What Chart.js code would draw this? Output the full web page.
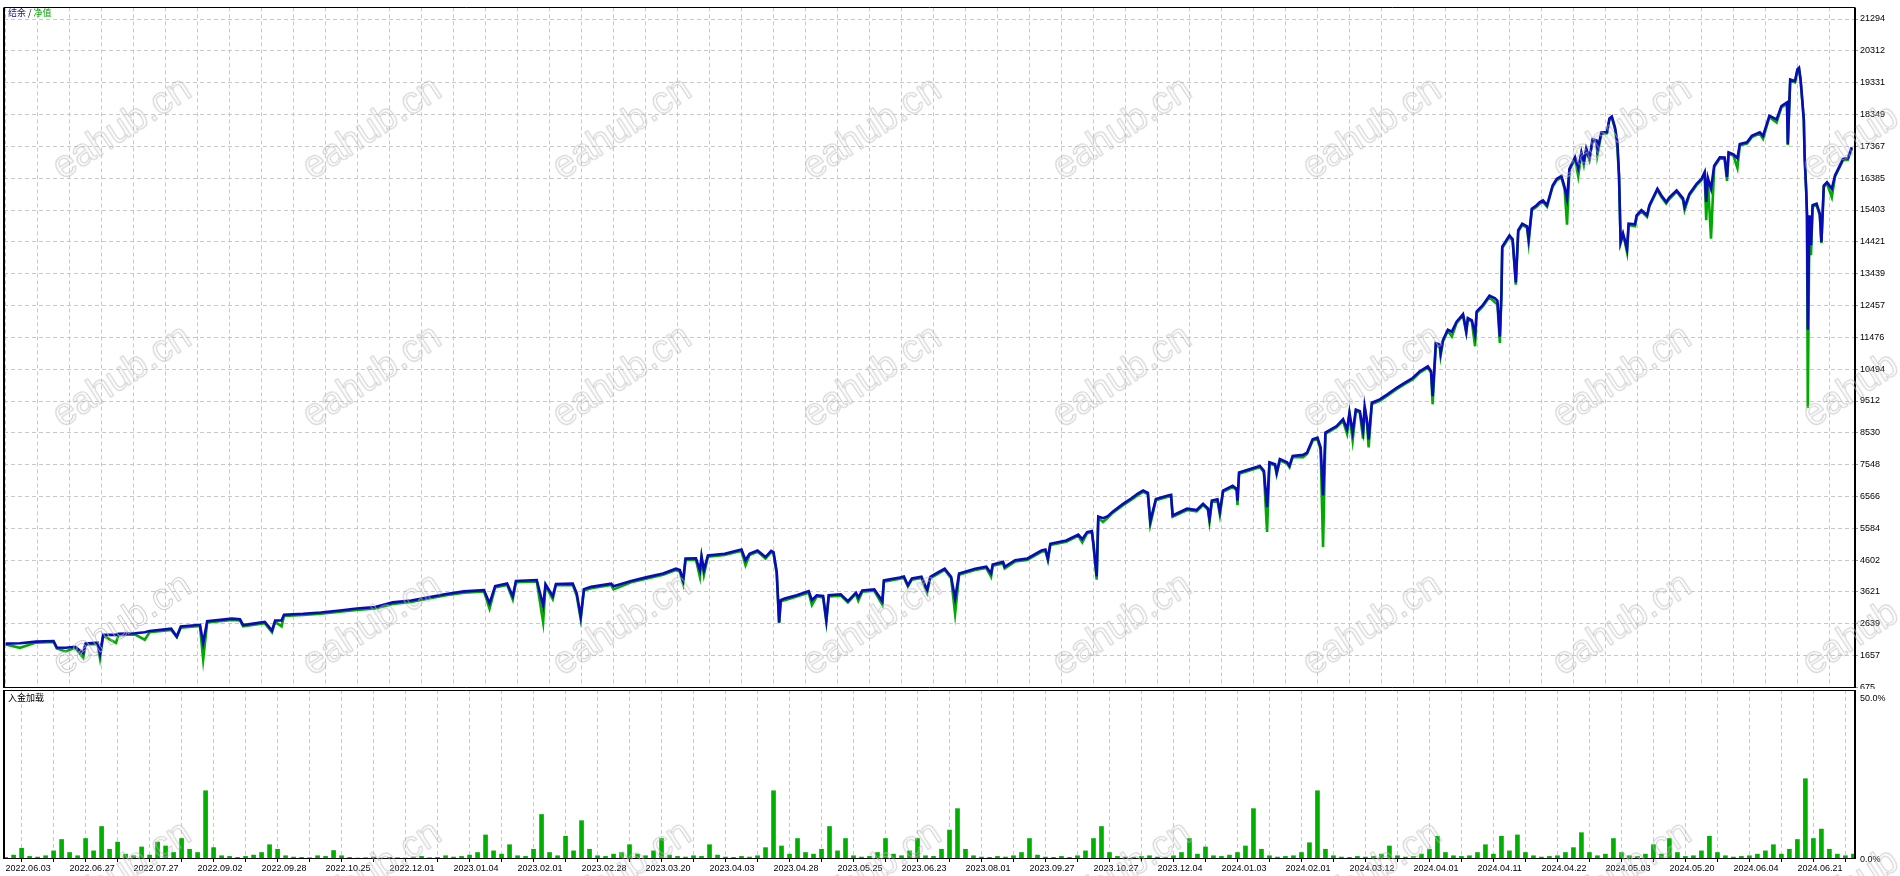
<!DOCTYPE html>
<html>
<head>
<meta charset="utf-8">
<script src="https://cdn.jsdelivr.net/npm/chart.js@4.4.1/dist/chart.umd.min.js"></script>
<style>
html,body{margin:0;padding:0;background:#fff;width:1900px;height:876px;overflow:hidden;}
#wrapMain{position:absolute;left:0;top:0;width:1900px;height:700px;}
#wrapLoad{position:absolute;left:0;top:689px;width:1900px;height:187px;background:#fff;}
.lbl{position:absolute;font-family:"Noto Sans CJK SC";font-size:9px;line-height:10px;white-space:pre;color:#000;z-index:5;}
.ax{position:absolute;font-family:"Liberation Sans";font-size:9px;line-height:10px;white-space:pre;color:#000;z-index:5;}
.wm{position:absolute;font-family:"Liberation Sans";font-size:38px;line-height:40px;color:transparent;-webkit-text-stroke:1px rgba(185,185,185,0.7);transform:translate(-50%,-50%) rotate(-33deg);white-space:nowrap;pointer-events:none;z-index:10;}
</style>
</head>
<body>
<div id="wrapMain"><canvas id="main" width="1900" height="700"></canvas></div>
<div id="wrapLoad"><canvas id="load" width="1900" height="187"></canvas></div>
<div class="lbl" style="left:8px;top:8px;"><span style="color:#1414a0">结余</span> / <span style="color:#00a000">净值</span></div>
<div class="lbl" style="left:8px;top:693px;">入金加载</div>
<div id="loadTicks"></div>
<script>
// ---------- DATA ----------
const dateLabels = ["2022.06.03","2022.06.27","2022.07.27","2022.09.02","2022.09.28","2022.10.25","2022.12.01","2023.01.04","2023.02.01","2023.02.28","2023.03.20","2023.04.03","2023.04.28","2023.05.25","2023.06.23","2023.08.01","2023.09.27","2023.10.27","2023.12.04","2024.01.03","2024.02.01","2024.03.12","2024.04.01","2024.04.11","2024.04.22","2024.05.03","2024.05.20","2024.06.04","2024.06.21"];

const yTickValues = [675,1657,2639,3621,4602,5584,6566,7548,8530,9512,10494,11476,12457,13439,14421,15403,16385,17367,18349,19331,20312,21294];
const loadTickValues = [0, 50];

// deal number (x), balance (blue), equity (green)
const deals = [
0,18,38,60,64,75,87,97,100,115,
118,122,138,141,162,174,180,207,214,219,
243,247,252,283,293,297,324,333,337,345,
348,372,394,418,439,462,484,507,529,551,
573,598,605,612,627,634,638,664,672,675,
684,688,709,714,719,723,732,757,760,782,
802,822,838,843,847,850,863,868,870,873,
878,899,915,920,925,930,940,945,950,957,
960,964,967,969,974,989,1004,1008,1014,1022,
1026,1029,1044,1053,1063,1066,1071,1086,1096,1098,
1118,1123,1128,1133,1145,1152,1156,1164,1174,1182,
1187,1192,1212,1226,1232,1234,1247,1249,1262,1277,
1295,1300,1303,1306,1326,1341,1346,1352,1358,1360,
1364,1366,1372,1378,1384,1397,1408,1415,1422,1428,
1431,1438,1452,1457,1459,1477,1489,1497,1503,1505,
1508,1515,1518,1522,1534,1539,1540,1542,1555,1568,
1573,1577,1580,1587,1589,1593,1602,1605,1609,1622,
1627,1634,1640,1644,1647,1650,1664,1672,1677,1680,
1684,1688,1693,1697,1699,1702,1704,1708,1718,1727,
1739,1749,1759,1768,1778,1782,1784,1788,1793,1794,
1797,1803,1808,1814,1822,1826,1828,1833,1837,1839,
1847,1855,1862,1865,1868,1870,1871,1880,1884,1888,
1891,1896,1902,1904,1908,1914,1918,1922,1927,1934,
1939,1945,1949,1952,1955,1962,1966,1970,1973,1976,
1980,1984,1989,1990,1995,2002,2005,2008,2012,2015,
2017,2019,2022,2024,2027,2029,2037,2039,2045,2052,
2055,2065,2070,2076,2080,2089,2097,2099,2105,2114,
2120,2124,2126,2128,2132,2136,2143,2149,2152,2154,
2160,2165,2168,2177,2183,2193,2197,2205,2214,2220,
2227,2228,2231,2237,2240,2242,2244,2246,2248,2249,
2251,2252,2253,2255,2256,2257,2259,2264,2268,2270,
2273,2277,2283,2287,2293,2297,2303,2308];

const balance = [
2030,2040,2090,2110,1910,1900,1930,1730,2030,2060,
1720,2300,2300,2330,2350,2380,2420,2490,2250,2560,
2610,2050,2720,2800,2780,2600,2700,2430,2740,2740,
2920,2950,2990,3050,3110,3160,3300,3360,3460,3560,
3640,3680,3270,3800,3880,3490,3960,3990,3200,3860,
3490,3870,3880,3580,2860,3710,3780,3880,3800,3960,
4080,4190,4340,4300,3980,4650,4660,4290,4720,4300,
4750,4800,4900,4930,4600,4800,4900,4800,4700,4890,
4850,4240,2680,3370,3420,3520,3650,3370,3520,3500,
2760,3520,3550,3340,3600,3450,3670,3700,3340,3980,
4070,4100,3830,4040,4090,3680,4090,4200,4340,4090,
3420,4190,4340,4400,4190,4470,4550,4400,4600,4650,
4900,4930,4650,5110,5210,5390,5250,5470,5500,5100,
4100,5950,5900,5960,6100,6340,6520,6650,6750,6680,
5800,6490,6590,6620,5980,6190,6150,6340,6200,5880,
6440,6480,6100,6750,6900,6800,6440,7310,7410,7510,
7360,6240,7620,7560,7300,7720,7620,7510,7820,7850,
7920,8330,8380,8080,6600,8540,8740,8950,8640,9150,
8550,9250,9200,8600,9350,8900,8330,9460,9560,9710,
9920,10070,10220,10430,10580,10430,9660,11300,11250,11000,
11400,11710,11650,11960,12190,11660,12070,12000,11560,12270,
12480,12760,12680,12600,11500,12830,14270,14620,14500,13170,
14780,14980,14900,14520,15440,15550,15650,15700,15550,16160,
16360,16450,16100,15750,16670,17030,16700,17180,16900,17300,
17000,17590,17550,17250,17800,17810,18230,18290,17950,17490,
16470,14420,14680,14500,14200,14980,14960,15240,15400,15240,
15550,16060,15850,15650,15790,16010,15760,15500,15900,16210,
16360,16570,15650,16400,16060,16770,17030,17020,16420,17180,
17120,17000,17440,17490,17690,17800,17690,18310,18200,18610,
18720,17440,19430,19380,19740,19790,19430,18820,18200,17080,
16010,15240,11710,15240,14800,14320,15550,15600,15290,14420,
16160,16260,16060,16470,16770,16980,17000,17340];

const equity = [
2000,1900,2060,2080,1880,1790,1900,1590,2000,2020,
1580,2270,2050,2290,2310,2150,2380,2450,2230,2520,
2570,1540,2680,2760,2740,2560,2660,2380,2700,2560,
2880,2910,2950,3010,3070,3110,3250,3310,3420,3520,
3600,3640,3110,3760,3840,3390,3920,3950,2690,3820,
3400,3830,3840,3500,2780,3670,3740,3840,3700,3920,
4040,4150,4300,4240,3880,4610,4620,4090,4680,4150,
4710,4760,4860,4890,4450,4760,4860,4760,4650,4850,
4800,4200,2660,3330,3370,3480,3600,3220,3480,3450,
2700,3480,3510,3300,3560,3350,3630,3660,3230,3940,
4030,4060,3790,4000,4050,3600,4050,4160,4300,4050,
2950,4150,4300,4360,4090,4430,4500,4350,4560,4610,
4860,4890,4600,5070,5170,5350,5150,5430,5460,5050,
4000,5900,5780,5920,6060,6300,6480,6600,6710,6640,
5700,6450,6550,6580,5940,6150,6110,6300,6160,5780,
6400,6440,6000,6710,6860,6760,6300,7270,7370,7470,
7320,5470,7580,7520,7250,7680,7580,7470,7780,7780,
7880,8290,8340,8000,5010,8500,8700,8900,8500,9110,
8300,9210,9150,8350,9310,8800,8080,9420,9520,9670,
9880,10030,10180,10390,10540,10390,9410,11260,11150,10900,
11360,11670,11500,11920,12150,11620,12030,11960,11200,12230,
12440,12720,12550,12500,11300,12790,14230,14580,14460,13100,
14740,14940,14860,14400,15400,15500,15600,15650,15500,16120,
16320,16400,16050,14950,16630,16990,16450,17140,16800,17260,
16950,17550,17500,17100,17760,17770,18190,18250,17900,17300,
16430,14380,14640,14450,14100,14940,14900,15200,15360,15190,
15510,16020,15800,15600,15740,15970,15710,15400,15860,16170,
16320,16530,15090,16350,14520,16730,16990,16980,16300,17140,
17080,16700,17400,17450,17650,17760,17600,18270,18100,18570,
18680,17400,19390,19340,19700,19750,19380,18780,18150,17030,
15970,15200,9300,15200,14500,14010,15510,15550,15240,14380,
16120,16220,15800,16430,16730,16940,16950,17300];

// deposit load (%), one value per 10 deals
const loadValues = [
0.5,1.2,3.3,0.8,0.6,1.0,2.5,6.0,2.0,1.0,6.3,2.5,10.0,3.0,5.2,1.5,1.0,3.7,1.2,5.2,
4.0,2.0,6.3,3.0,2.0,21.0,3.5,1.0,0.8,0.5,0.8,1.2,2.0,4.4,3.0,1.0,0.6,0.5,0.4,1.0,
0.8,2.6,1.0,0.5,0.3,0.4,0.6,0.3,0.5,0.4,0.3,0.6,0.8,0.4,0.5,1.0,0.6,0.8,1.2,2.0,
7.4,2.5,1.5,4.4,1.0,0.8,3.0,13.7,2.0,1.0,7.0,2.5,11.8,3.0,1.0,0.8,1.5,2.0,4.4,1.5,
1.0,2.5,6.3,1.2,0.8,0.6,1.0,0.8,4.4,1.2,0.6,0.5,0.8,0.6,1.0,3.5,21.0,4.0,1.5,6.3,
2.0,1.5,3.0,10.0,2.5,6.3,1.0,0.6,0.8,2.0,6.3,1.5,1.0,2.5,6.3,1.0,0.8,3.0,8.9,15.5,
3.0,1.0,0.6,0.5,0.8,0.6,1.0,2.0,6.3,1.2,0.6,0.5,0.8,0.5,1.0,2.5,6.3,10.0,2.0,0.8,
0.6,0.5,0.8,1.0,0.6,0.5,1.0,2.0,6.3,1.5,3.7,1.0,0.8,1.2,2.0,4.0,15.5,3.0,1.0,0.6,
0.8,1.0,2.0,5.0,21.0,3.0,1.0,0.6,0.5,0.8,0.6,0.8,1.5,4.0,1.0,0.6,0.8,1.5,3.0,7.0,
2.0,1.0,0.8,1.0,2.0,4.4,1.5,7.0,2.5,7.4,2.0,1.0,0.6,0.8,1.0,2.0,3.5,8.1,2.0,1.0,
1.5,6.3,2.0,1.0,0.8,1.5,4.4,1.5,6.3,2.0,0.8,1.0,2.5,7.0,2.0,1.0,0.6,0.8,1.0,1.5,
2.5,4.4,1.5,3.0,6.0,24.7,6.3,9.2,3.0,1.5,1.0,1.5];
const LOAD_STEP = 10;

// ---------- STYLE / LAYOUT ----------
const BLUE = '#0a0ab9', GREEN = '#00aa00', BAR_GREEN = '#00b000', GRID = '#c8c8c8';
const X_MIN = -2, X_MAX = 2312, GRID_STEP = 40, LABEL_STEP = 80;
const gridDeals = [];
for (let v = 0; v <= X_MAX; v += GRID_STEP) gridDeals.push(v);
const tickFont = {family:'Liberation Sans', size:9};

const framePlugin = {
  id:'frame',
  afterDraw(chart){
    const {ctx, chartArea:a} = chart;
    ctx.save();
    ctx.strokeStyle = '#000';
    ctx.lineWidth = 1;
    ctx.beginPath();
    const t = Math.round(a.top) + 0.5, b = Math.round(a.bottom) - 0.5;
    ctx.moveTo(a.left, t); ctx.lineTo(a.right, t);
    ctx.moveTo(a.left, b); ctx.lineTo(a.right, b);
    ctx.stroke();
    ctx.lineWidth = 2;
    ctx.beginPath();
    ctx.moveTo(a.left, a.top); ctx.lineTo(a.left, a.bottom);
    ctx.moveTo(a.right, a.top); ctx.lineTo(a.right, a.bottom);
    ctx.stroke();
    ctx.restore();
  }
};

new Chart(document.getElementById('main'), {
  type:'line',
  data:{datasets:[
    {label:'结余', data: deals.map((d,i)=>({x:d, y:balance[i]})), borderColor:BLUE, borderWidth:2.6, pointRadius:0, tension:0, fill:false},
    {label:'净值', data: deals.map((d,i)=>({x:d, y:equity[i]})), borderColor:GREEN, borderWidth:2.6, pointRadius:0, tension:0, fill:false}
  ]},
  options:{
    responsive:false, animation:false, events:[],
    layout:{padding:{left:4, top:4, right:0, bottom:12}},
    plugins:{legend:{display:false}, tooltip:{enabled:false}},
    scales:{
      x:{type:'linear', min:X_MIN, max:X_MAX,
         afterBuildTicks:s=>{s.ticks = gridDeals.map(v=>({value:v}));},
         ticks:{display:false},
         grid:{color:GRID, drawTicks:false},
         border:{display:false, dash:[4,3]},
         afterFit:s=>{s.height = 0;}},
      y:{position:'right', min:660, max:21652,
         afterBuildTicks:s=>{s.ticks = yTickValues.map(v=>({value:v}));},
         ticks:{color:'#000', font:tickFont, padding:2, autoSkip:false, callback:v=>String(v)},
         grid:{color:GRID, tickColor:'#999', tickLength:3, tickBorderDash:[]},
         border:{display:false, dash:[4,3]},
         afterFit:s=>{s.width = 45;}}
    }
  },
  plugins:[framePlugin]
});

const loadChart = new Chart(document.getElementById('load'), {
  type:'bar',
  data:{datasets:[
    {label:'入金加载', data: loadValues.map((v,i)=>({x:i*LOAD_STEP, y:v})), backgroundColor:BAR_GREEN, borderWidth:0, barThickness:4}
  ]},
  options:{
    responsive:false, animation:false, events:[],
    layout:{padding:{left:4, top:1, right:0, bottom:0}},
    plugins:{legend:{display:false}, tooltip:{enabled:false}},
    scales:{
      x:{type:'linear', min:X_MIN, max:X_MAX, offset:false,
         afterBuildTicks:s=>{s.ticks = gridDeals.map(v=>({value:v}));},
         ticks:{autoSkip:false, maxRotation:0, minRotation:0, align:'start', color:'#000', font:tickFont, padding:1,
                callback:v=> (v % LABEL_STEP === 0 && dateLabels[v/LABEL_STEP]) ? dateLabels[v/LABEL_STEP] : ''},
         grid:{color:GRID, tickColor:'#000', tickLength:3, tickBorderDash:[]},
         border:{display:false, dash:[4,3]},
         afterFit:s=>{s.height = 17;}},
      y:{position:'right', min:0, max:52,
         ticks:{display:false},
         grid:{display:false, drawTicks:false},
         border:{display:false},
         afterFit:s=>{s.width = 45;}}
    }
  },
  plugins:[framePlugin]
});

// lower panel tick labels placed through the chart's own y scale
(function(){
  const ys = loadChart.scales.y;
  const host = document.getElementById('loadTicks');
  for (const v of loadTickValues) {
    const d = document.createElement('div');
    d.className = 'ax';
    d.textContent = v.toFixed(1) + '%';
    let py = 689 + ys.getPixelForValue(v) - 5;
    if (v === 50) py += 1;
    d.style.left = (ys.left + 5) + 'px';
    d.style.top = py + 'px';
    host.appendChild(d);
  }
})();

// watermark
const wmCols = [121,371,621,871,1121,1371,1621,1871];
const wmRows = [127,375,623,871];
for (const cy of wmRows) for (const cx of wmCols) {
  const d = document.createElement('div');
  d.className = 'wm';
  d.textContent = 'eahub.cn';
  d.style.left = cx + 'px';
  d.style.top = cy + 'px';
  document.body.appendChild(d);
}
</script>
</body>
</html>
